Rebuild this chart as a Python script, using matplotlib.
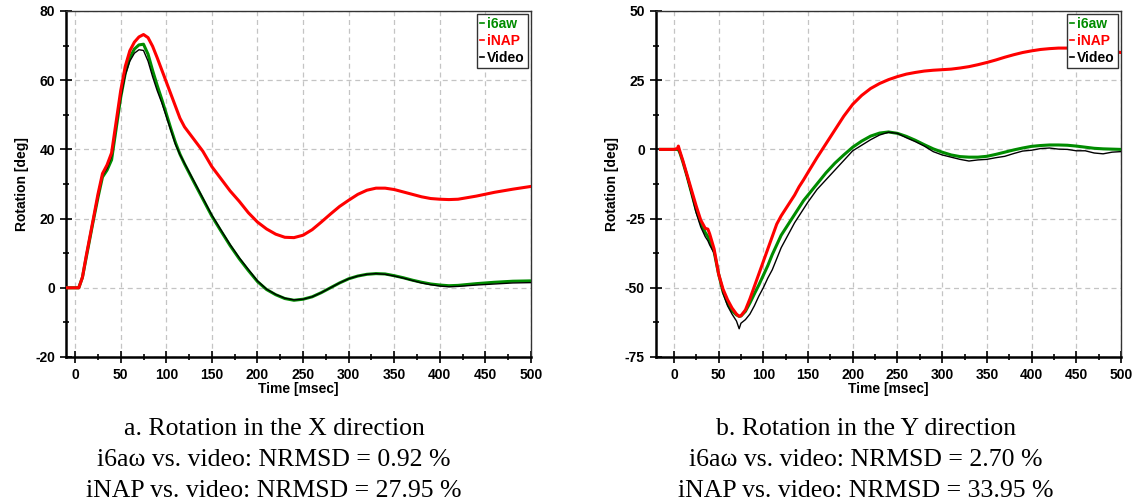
import matplotlib
matplotlib.use("Agg")
import matplotlib.pyplot as plt
from matplotlib.lines import Line2D
from matplotlib.ticker import MultipleLocator

# ---------------- data: rotation about X ----------------
t_x = [-10, 0, 4, 8, 12, 16, 20, 25, 30, 35, 40, 45, 50, 55, 60, 65, 70, 75, 80, 85,
       90, 95, 100, 105, 110, 115, 120, 130, 140, 150, 160, 170, 180, 190, 200, 210,
       220, 230, 240, 250, 260, 270, 280, 290, 300, 310, 320, 330, 340, 350, 360, 370,
       380, 390, 400, 410, 420, 440, 460, 480, 500]
video_x = [0, 0, 0, 3, 8.5, 14, 19.5, 26, 32.5, 34.5, 38, 46.5, 55, 61.5, 65.5, 67.8,
           68.8, 68.6, 65.5, 61, 57, 53.5, 49.5, 45.5, 41.5, 38.5, 36, 31, 26, 21, 16.7,
           12.5, 8.7, 5.3, 2, -0.4, -1.9, -3, -3.5, -3.3, -2.6, -1.4, 0, 1.4, 2.6, 3.4,
           3.9, 4.1, 3.9, 3.4, 2.8, 2.1, 1.4, 0.9, 0.5, 0.3, 0.4, 0.8, 1.1, 1.4, 1.5]
i6aw_x = [0, 0, 0, 3, 8.5, 14, 19.5, 26, 32, 34, 37, 46, 55, 62, 66.5, 69, 70.2, 70.4,
          67.5, 62.8, 58.5, 54.5, 50.3, 46, 42, 38.6, 35.8, 30.7, 25.7, 20.7, 16.4,
          12.2, 8.4, 5.0, 1.8, -0.5, -2.0, -3.1, -3.6, -3.3, -2.6, -1.4, 0, 1.4, 2.6,
          3.4, 3.9, 4.1, 4.0, 3.5, 2.9, 2.2, 1.6, 1.1, 0.8, 0.6, 0.7, 1.2, 1.6, 1.9, 2.0]
inap_x = [0, 0, 0, 3, 9, 14.5, 20, 27, 33, 35.5, 39, 48, 57, 64, 68.5, 71, 72.5, 73.2,
          72.3, 69.8, 66.5, 63, 59.5, 56, 52.5, 49, 46.5, 43, 39.5, 35, 31.5, 28, 25,
          21.7, 19, 17, 15.5, 14.6, 14.5, 15.2, 16.8, 19, 21.3, 23.5, 25.3, 27, 28.2,
          28.8, 28.8, 28.4, 27.7, 27, 26.3, 25.8, 25.6, 25.5, 25.6, 26.5, 27.6, 28.5, 29.3]

# ---------------- data: rotation about Y ----------------
t_y = [-15, 0, 4, 5, 7, 10, 15, 20, 25, 30, 35, 38, 40, 45, 50, 55, 60, 65, 70, 73, 75,
       80, 85, 90, 95, 100, 105, 110, 115, 120, 125, 130, 135, 140, 145, 150, 160, 170,
       180, 190, 200, 210, 220, 230, 240, 250, 260, 270, 280, 290, 300, 310, 320, 330,
       340, 350, 360, 370, 380, 390, 400, 410, 420, 430, 440, 450, 460, 470, 480, 490, 500]
video_y = [0, 0, 0, 0, -1.5, -4.5, -10.5, -16.5, -23, -28, -31.5, -33, -34.5, -37.5, -45,
           -52, -56.5, -59.5, -62, -64.8, -62.8, -61.5, -59.5, -56.5, -53, -50, -46.5,
           -43.5, -39.5, -35.5, -32.5, -29.5, -26.5, -24, -21.5, -19, -14.5, -11, -7.5,
           -4, -0.5, 1.5, 3.5, 5.2, 6.2, 5.8, 4.2, 2.8, 1.2, -0.8, -2, -2.8, -3.6, -4.2,
           -3.8, -3.6, -3.0, -2.5, -1.5, -0.6, -0.3, 0.3, 0.5, 0.1, 0.0, -0.5, -0.5,
           -1.3, -1.6, -1.0, -0.8]
i6aw_y = [0, 0, 0, 0, -1.5, -4.5, -10, -16, -22, -26.5, -30, -31.5, -33, -37, -45, -51.5,
          -55.5, -58.3, -59.8, -60.3, -60.2, -58.5, -55.5, -52.2, -49, -45.5, -42, -38,
          -34.5, -31, -28.5, -26, -23.5, -21, -18.5, -16.5, -12.5, -8.5, -5, -2, 0.8, 3,
          4.8, 5.9, 6.3, 5.8, 4.7, 3.3, 1.7, 0.2, -1, -2, -2.6, -2.8, -2.8, -2.5, -1.8,
          -1, -0.2, 0.5, 1.1, 1.4, 1.6, 1.6, 1.5, 1.2, 0.8, 0.4, 0.2, 0.1, 0]
inap_y = [0, 0, 0.3, 1.2, -1, -4, -9.5, -15, -20.5, -25.5, -28.5, -28.8, -30.5, -36, -45,
          -50.5, -54.3, -57.3, -59.5, -60.3, -60.1, -58, -54, -49.5, -45, -40.5, -36,
          -31.5, -27, -24, -21.5, -19, -16.5, -13.5, -11, -8.3, -3, 2, 7, 12, 16.3, 19.5,
          22, 23.8, 25.2, 26.3, 27.2, 27.8, 28.3, 28.6, 28.8, 29, 29.4, 29.9, 30.6, 31.4,
          32.3, 33.3, 34.2, 35, 35.6, 36.1, 36.4, 36.6, 36.6, 36.5, 36.3, 36, 35.7, 35.4, 35]

series_names = ["i6aw", "iNAP", "Video"]
series_colors = ["#008c00", "#ff0000", "#000000"]

captions_a = ["a. Rotation in the X direction",
              "i6a\u03c9 vs. video: NRMSD = 0.92 %",
              "iNAP vs. video: NRMSD = 27.95 %"]
captions_b = ["b. Rotation in the Y direction",
              "i6a\u03c9 vs. video: NRMSD = 2.70 %",
              "iNAP vs. video: NRMSD = 33.95 %"]

W, H = 1135, 503
plt.rcParams["font.family"] = ["Liberation Sans", "DejaVu Sans"]
plt.rcParams["axes.unicode_minus"] = False
fig = plt.figure(figsize=(W / 100, H / 100), dpi=100)


def px_axes(x0, x1, y0, y1):
    return fig.add_axes([x0 / W, 1 - y1 / H, (x1 - x0) / W, (y1 - y0) / H])


def style(ax, xlim, ylim, ymajor, yminor):
    ax.set_xlim(*xlim)
    ax.set_ylim(*ylim)
    ax.xaxis.set_major_locator(MultipleLocator(50))
    ax.xaxis.set_minor_locator(MultipleLocator(25))
    ax.yaxis.set_major_locator(MultipleLocator(ymajor))
    ax.yaxis.set_minor_locator(MultipleLocator(yminor))
    ax.grid(True, which="major", color="#c4c4c4", linestyle=(0, (4, 3)), linewidth=0.9)
    ax.set_axisbelow(True)
    for s in ("left", "bottom"):
        ax.spines[s].set_linewidth(1.8)
        ax.spines[s].set_color("black")
    for s in ("top", "right"):
        ax.spines[s].set_linewidth(1.0)
        ax.spines[s].set_color("#333333")
    ax.tick_params(which="major", direction="inout", length=8, width=1.2,
                   labelsize=10, pad=4)
    ax.tick_params(which="minor", direction="inout", length=5, width=1.2)
    ax.tick_params(axis="x", which="major", pad=4)
    for lab in ax.get_xticklabels() + ax.get_yticklabels():
        lab.set_fontweight("bold")
    ax.set_xlabel("Time [msec]", fontsize=10, fontweight="bold", labelpad=0)
    ax.set_ylabel("Rotation [deg]", fontsize=10, fontweight="bold", labelpad=4)


def draw(ax, t, green, red, black):
    ax.plot(t, green, color=series_colors[0], lw=2.2, zorder=3)
    ax.plot(t, black, color=series_colors[2], lw=1.0, zorder=4)
    ax.plot(t, red, color=series_colors[1], lw=2.2, zorder=5)
    handles = [Line2D([], [], color=c, lw=1.2) for c in series_colors]
    leg = ax.legend(handles, series_names, loc="upper right", bbox_to_anchor=(1, 1),
                    borderaxespad=0.25, handlelength=0.25, handletextpad=0.25,
                    labelspacing=0.2, borderpad=0.2, fancybox=False, framealpha=1,
                    edgecolor="#333333", prop={"weight": "bold", "size": 10})
    leg.get_frame().set_linewidth(1.0)
    for txt, c in zip(leg.get_texts(), series_colors):
        txt.set_color(c)


ax1 = px_axes(66, 531, 11, 357)
style(ax1, (-10, 500), (-20, 80), 20, 10)
draw(ax1, t_x, i6aw_x, inap_x, video_x)

ax2 = px_axes(656, 1121, 11, 357)
style(ax2, (-20, 500), (-75, 50), 25, 12.5)
draw(ax2, t_y, i6aw_y, inap_y, video_y)

# three-line captions under each panel
serif = ["Liberation Serif", "DejaVu Serif"]
baselines = [435, 466, 497]
for lines, cx in ((captions_a, 274), (captions_b, 866)):
    for txt, by in zip(lines, baselines):
        fig.text(cx / W, 1 - by / H, txt, ha="center", va="baseline",
                 fontsize=18.5, family=serif)

fig.savefig("out.png", dpi=100)
